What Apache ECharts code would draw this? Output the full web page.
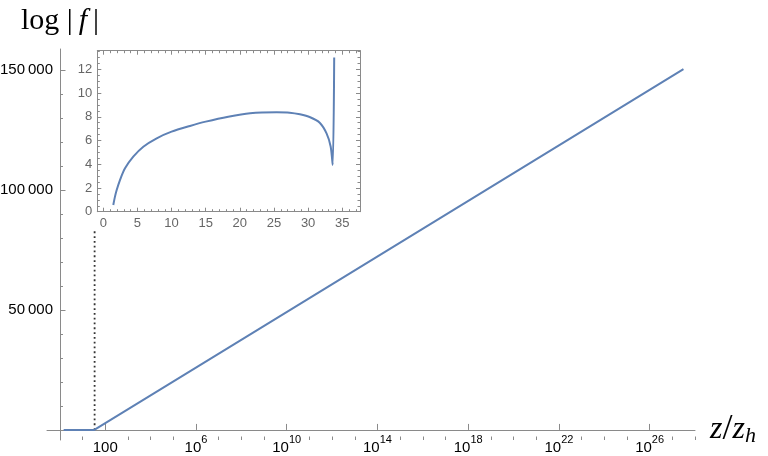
<!DOCTYPE html>
<html>
<head>
<meta charset="utf-8">
<script src="https://cdn.jsdelivr.net/npm/echarts@6/dist/echarts.min.js"></script>
<style>
html,body{margin:0;padding:0;background:#fff;}
#chart{width:768px;height:456px;}
</style>
</head>
<body>
<div id="chart"></div>
<script>
// ---- data ----
// inset curve: log|f| versus z/z_h (linear axes)
const insetZ    = [1.46, 1.70, 1.96, 2.44, 3.18, 4.39, 5.86, 7.82, 10.0, 12.7, 15.0, 18.3, 21.5, 25.4, 27.3, 28.8, 30.3, 31.7, 32.7, 33.3, 33.6, 33.82];
const insetLogF = [0.56, 1.25, 1.83, 2.67, 3.66, 4.64, 5.48, 6.19, 6.75, 7.23, 7.59, 8.01, 8.30, 8.38, 8.35, 8.21, 7.96, 7.50, 6.60, 5.50, 3.94, 13.0];
// continuation of the main curve at large z/z_h
const tailZ    = [3.1e27];
const tailLogF = [150400];
// dotted marker line
const markerZ    = [33.82, 33.82];
const markerLogF = [0, 83300];
// tick positions
const xMajorTicks = [1e2, 1e6, 1e10, 1e14, 1e18, 1e22, 1e26];
const xMinorTicks = [1e0, 1e1, 1e3, 1e4, 1e5, 1e7, 1e8, 1e9, 1e11, 1e12, 1e13, 1e15, 1e16, 1e17, 1e19, 1e20, 1e21, 1e23, 1e24, 1e25, 1e27, 1e28];
const yMajorTicks = [50000, 100000, 150000];

// ---- build chart ----
const pair = (xs, ys) => xs.map((x, i) => [x, ys[i]]);
const mainData = pair(insetZ, insetLogF).concat(pair(tailZ, tailLogF));
const insetData = pair(insetZ, insetLogF);
const markerData = pair(markerZ, markerLogF);

const AX = '#8a8a8a';
const BLUE = '#5E81B5';
const SANS = 'Liberation Sans, Arial, sans-serif';
const SERIF = 'Liberation Serif, Times New Roman, serif';

const chart = echarts.init(document.getElementById('chart'), null, {renderer: 'canvas'});

const insetX = {
  gridIndex: 1, type: 'value', min: -0.88, max: 37.6, splitNumber: 8,
  axisLine: {onZero: false, lineStyle: {color: AX, width: 1}},
  axisTick: {inside: true, length: 4, lineStyle: {color: AX}},
  minorTick: {show: true, splitNumber: 5, length: 2.5, lineStyle: {color: AX}},
  splitLine: {show: false}
};
const insetY = {
  gridIndex: 1, type: 'value', min: 0, max: 13.57, splitNumber: 7,
  axisLine: {onZero: false, lineStyle: {color: AX, width: 1}},
  axisTick: {inside: true, length: 4, lineStyle: {color: AX}},
  minorTick: {show: true, splitNumber: 4, length: 2.5, lineStyle: {color: AX}},
  splitLine: {show: false}
};

const option = {
  animation: false,
  backgroundColor: '#fff',
  grid: [
    {left: 47, right: 73, top: 49, bottom: 16, containLabel: false, outerBoundsMode: 'none'},
    {left: 97.3, top: 50.7, width: 262.7, height: 161, show: true, backgroundColor: '#fff', borderWidth: 0, containLabel: false, outerBoundsMode: 'none'}
  ],
  xAxis: [
    {
      gridIndex: 0, type: 'log', logBase: 10, min: Math.pow(10, -0.57), max: 1e28, position: 'bottom',
      axisLine: {onZero: true, lineStyle: {color: AX, width: 1}},
      axisTick: {inside: true, length: 6, customValues: xMajorTicks, lineStyle: {color: AX}},
      axisLabel: {
        customValues: xMajorTicks, margin: -3, color: '#000',
        formatter: function (v) {
          const e = Math.round(Math.log10(v));
          if (e === 2) return '{n|100}';
          return '{n|10}{s|' + e + '}';
        },
        rich: {
          n: {fontFamily: SANS, fontSize: 15, lineHeight: 15, padding: [6, 0, 0, 0], color: '#000'},
          s: {fontFamily: SANS, fontSize: 11, lineHeight: 11, padding: [0, 0, 10, 0], color: '#000'}
        }
      },
      splitLine: {show: false},
      name: '{i|z}{r|/}{i|z}{s|h}', nameLocation: 'end', nameGap: 15,
      nameTextStyle: {
        rich: {
          i: {fontFamily: SERIF, fontStyle: 'italic', fontSize: 32, color: '#000'},
          r: {fontFamily: SERIF, fontSize: 36, color: '#000'},
          s: {fontFamily: SERIF, fontStyle: 'italic', fontSize: 22, color: '#000', padding: [12, 0, 0, 0]}
        }
      }
    },
    {
      gridIndex: 0, type: 'log', logBase: 10, min: Math.pow(10, -0.57), max: 1e28, position: 'bottom',
      axisLine: {show: false, onZero: true},
      axisTick: {inside: true, length: 3.5, customValues: xMinorTicks, lineStyle: {color: AX}},
      axisLabel: {show: false},
      splitLine: {show: false}
    },
    Object.assign({}, insetX, {
      position: 'bottom',
      axisLabel: {showMinLabel: false, showMaxLabel: false, color: '#666', fontFamily: SANS, fontSize: 13, margin: 5}
    }),
    Object.assign({}, insetX, {position: 'top', axisLabel: {show: false}})
  ],
  yAxis: [
    {
      gridIndex: 0, type: 'value', min: -4200, max: 158800, splitNumber: 3, position: 'left', offset: -13,
      axisLine: {onZero: false, lineStyle: {color: AX, width: 1}},
      axisTick: {inside: true, length: 5.5, customValues: yMajorTicks, lineStyle: {color: AX}},
      minorTick: {show: true, splitNumber: 5, length: 3, lineStyle: {color: AX}},
      axisLabel: {
        customValues: yMajorTicks, margin: 7, color: '#000', fontFamily: SANS, fontSize: 15,
        formatter: function (v) {
          const s = String(Math.round(v));
          return s.length > 4 ? s.slice(0, s.length - 3) + '\u2009' + s.slice(s.length - 3) : s;
        }
      },
      splitLine: {show: false},
      name: '{r|log |\u2009}{i|f}{r|\u2009|}', nameLocation: 'end', nameGap: 13,
      nameTextStyle: {
        rich: {
          r: {fontFamily: SERIF, fontSize: 30, color: '#000'},
          i: {fontFamily: SERIF, fontStyle: 'italic', fontSize: 30, color: '#000'}
        }
      }
    },
    Object.assign({}, insetY, {
      position: 'left',
      axisLabel: {showMaxLabel: false, color: '#666', fontFamily: SANS, fontSize: 13, margin: 5}
    }),
    Object.assign({}, insetY, {position: 'right', axisLabel: {show: false}})
  ],
  series: [
    {type: 'line', xAxisIndex: 0, yAxisIndex: 0, data: mainData, showSymbol: false, symbol: 'none', lineStyle: {color: BLUE, width: 2}, z: 3},
    {type: 'line', xAxisIndex: 0, yAxisIndex: 0, data: markerData, showSymbol: false, symbol: 'none', lineStyle: {color: '#333', width: 1.8, type: [1.8, 3]}, z: 2},
    {type: 'line', xAxisIndex: 2, yAxisIndex: 2, data: insetData, smooth: 0.3, showSymbol: false, symbol: 'none', lineStyle: {color: BLUE, width: 2}, z: 5}
  ]
};
chart.setOption(option);
</script>
</body>
</html>
